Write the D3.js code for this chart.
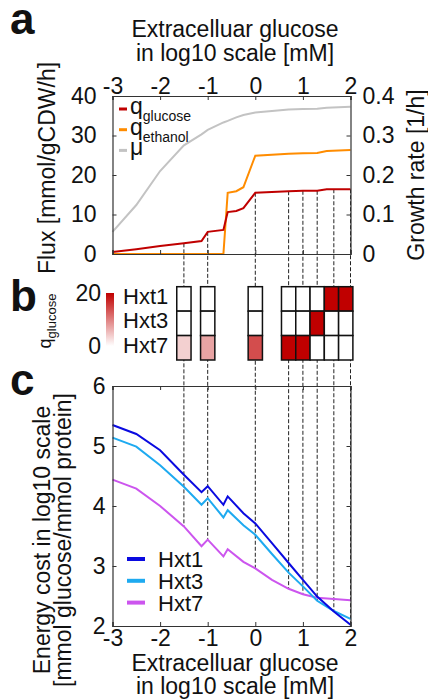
<!DOCTYPE html>
<html>
<head>
<meta charset="utf-8">
<script src="https://cdn.jsdelivr.net/npm/d3@7"></script>
<style>
  body { margin: 0; background: #fff; }
  svg text { font-family: "Liberation Sans", Arial, sans-serif; fill: #111; }
</style>
</head>
<body>
<div id="chart"></div>
<script>
// panel a: fluxes and growth rate vs log10 glucose
const fluxX = [-3, -2.5, -2, -1.5, -1.13, -1, -0.67, -0.58, -0.4, -0.25, 0, 0.7, 1, 1.3, 1.5, 2];
const qGlucose = [0.5, 1.2, 2.0, 2.7, 3.3, 5.6, 6.1, 10.6, 10.9, 11.6, 15.5, 15.9, 16.0, 16.0, 16.4, 16.4];
const qEthanol = [0, 0, 0, 0, 0, 0, 0, 15.5, 15.9, 16.9, 24.9, 25.4, 25.5, 25.6, 26.1, 26.3];
const growth = [0.056, 0.124, 0.21, 0.275, 0.303, 0.314, 0.333, 0.337, 0.346, 0.352, 0.358, 0.366, 0.367, 0.368, 0.37, 0.373];

// panel b: chosen transporter heatmap
const transporters = ["Hxt1", "Hxt3", "Hxt7"];
const heatX = [-1.5, -1, 0, 0.7, 1, 1.3, 1.6, 1.9];
const heatHxt1 = [0, 0, 0, 0, 0, 0, 20, 20];
const heatHxt3 = [0, 0, 0, 0, 0, 20, 0, 0];
const heatHxt7 = [3.7, 7.2, 14, 20, 20, 0, 0, 0];

// panel c: energy cost
const costX = [-3, -2.5, -2, -1.5, -1.13, -1, -0.67, -0.58, -0.25, 0, 0.35, 0.7, 1, 1.3, 1.65, 2];
const costHxt1 = [5.35, 5.2, 4.93, 4.52, 4.23, 4.33, 4.02, 4.16, 3.88, 3.71, 3.38, 3.05, 2.77, 2.49, 2.24, 2.02];
const costHxt3 = [5.14, 4.99, 4.68, 4.32, 4.02, 4.13, 3.81, 3.93, 3.68, 3.52, 3.2, 2.89, 2.66, 2.42, 2.25, 2.12];
const costHxt7 = [4.44, 4.29, 4.0, 3.66, 3.33, 3.44, 3.16, 3.28, 3.07, 2.96, 2.77, 2.62, 2.53, 2.47, 2.45, 2.43];

// glucose levels marked with dashed lines
const levels = [-1.5, -1, 0, 0.7, 1, 1.3, 1.65, 2];

const xTicks = [-3, -2, -1, 0, 1, 2];
const fluxTicks = [0, 10, 20, 30, 40];
const growthTicks = [0, 0.1, 0.2, 0.3, 0.4];
const costTicks = [2, 3, 4, 5, 6];

const w = 428, h = 700;
const boxColor = "#333";
const fs = "23px";

const svg = d3.select("#chart").append("svg")
    .attr("width", w)
    .attr("height", h);

const x = d3.scaleLinear().domain([-3, 2]).range([112.5, 350.5]);
const yFlux = d3.scaleLinear().domain([0, 40]).range([254, 96]);
const yGrowth = d3.scaleLinear().domain([0, 0.4]).range([254, 96]);
const yCost = d3.scaleLinear().domain([2, 6]).range([626, 386]);

const interp = (xs, ys, v) => {
    const i = d3.bisectLeft(xs, v);
    if (i <= 0) return ys[0];
    if (i >= xs.length) return ys[ys.length - 1];
    const t = (v - xs[i - 1]) / (xs[i] - xs[i - 1]);
    return ys[i - 1] + t * (ys[i] - ys[i - 1]);
};

const styleAxis = (g) => {
    g.select(".domain").attr("stroke", boxColor).attr("stroke-width", 1.2);
    g.selectAll(".tick line").attr("stroke", boxColor);
    g.selectAll(".tick text").style("font-size", fs).attr("fill", "#111");
};

// dashed guide lines (drawn first, heatmap cells sit on top)
svg.append("g")
    .selectAll("line")
    .data(levels)
    .enter()
    .append("line")
    .attr("x1", d => x(d))
    .attr("x2", d => x(d))
    .attr("y1", d => yFlux(interp(fluxX, qGlucose, d)))
    .attr("y2", d => yCost(Math.min(interp(costX, costHxt1, d), interp(costX, costHxt3, d), interp(costX, costHxt7, d))))
    .attr("stroke", "#222")
    .attr("stroke-width", 1)
    .attr("stroke-dasharray", "4,2");

// ---------- panel a ----------
const line = (xs, ys, yScale) => d3.line()
    .x((d, i) => x(xs[i]))
    .y(d => yScale(d))(ys);

svg.append("path").attr("d", line(fluxX, growth, yGrowth))
    .attr("fill", "none").attr("stroke", "#c3c3c3").attr("stroke-width", 2);
svg.append("path").attr("d", line(fluxX, qEthanol, yFlux))
    .attr("fill", "none").attr("stroke", "#ff8c00").attr("stroke-width", 2);
svg.append("path").attr("d", line(fluxX, qGlucose, yFlux))
    .attr("fill", "none").attr("stroke", "#c00000").attr("stroke-width", 2);

svg.append("g")
    .attr("transform", "translate(0,96)")
    .call(d3.axisTop(x).tickValues(xTicks).tickSize(-4).tickPadding(2).tickFormat(d => String(d)))
    .call(styleAxis);
svg.append("g")
    .attr("transform", "translate(0,254)")
    .call(d3.axisBottom(x).tickValues(xTicks).tickSize(-4).tickFormat(""))
    .call(styleAxis);
svg.append("g")
    .attr("transform", "translate(112.5,0)")
    .call(d3.axisLeft(yFlux).tickValues(fluxTicks).tickSize(-4).tickPadding(16))
    .call(styleAxis);
svg.append("g")
    .attr("transform", "translate(350.5,0)")
    .call(d3.axisRight(yGrowth).tickValues(growthTicks).tickSize(-4).tickPadding(12).tickFormat(d => d === 0 ? "0" : d3.format(".1f")(d)))
    .call(styleAxis);

// legend a
const legA = [
    { color: "#c00000", main: "q", sub: "glucose" },
    { color: "#ff8c00", main: "q", sub: "ethanol" },
    { color: "#c3c3c3", main: "\u03bc", sub: "" }
];
const legendA = svg.append("g").attr("transform", "translate(119,109)");
legendA.selectAll("line")
    .data(legA)
    .enter()
    .append("line")
    .attr("x1", 0).attr("x2", 8)
    .attr("y1", (d, i) => i * 20.7).attr("y2", (d, i) => i * 20.7)
    .attr("stroke", d => d.color)
    .attr("stroke-width", 3);
const legTexts = legendA.selectAll("text")
    .data(legA)
    .enter()
    .append("text")
    .attr("x", 11)
    .attr("y", (d, i) => i * 20.7 + 5)
    .style("font-size", "23px");
legTexts.append("tspan").text(d => d.main);
legTexts.append("tspan")
    .attr("dy", 7)
    .style("font-size", "14px")
    .text(d => d.sub);

// titles a
const topTitle = svg.append("text")
    .attr("text-anchor", "middle")
    .style("font-size", fs);
topTitle.append("tspan").attr("x", 235).attr("y", 37).text("Extracelluar glucose");
topTitle.append("tspan").attr("x", 235).attr("y", 61).text("in log10 scale [mM]");

svg.append("text")
    .attr("transform", "translate(55,168) rotate(-90)")
    .attr("text-anchor", "middle")
    .style("font-size", fs)
    .text("Flux [mmol/gCDW/h]");

svg.append("text")
    .attr("transform", "translate(424,175) rotate(-90)")
    .attr("text-anchor", "middle")
    .style("font-size", fs)
    .text("Growth rate [1/h]");

// ---------- panel b ----------
const heatRows = [heatHxt1, heatHxt3, heatHxt7];
const rowY = d3.scaleBand().domain(transporters).range([286.7, 360]);
const heatColor = d3.scaleLinear().domain([0, 20]).range(["#ffffff", "#c00000"]);
const cellW = x(0.3) - x(0);

const cells = [];
heatRows.forEach((row, r) => {
    row.forEach((v, c) => cells.push({ t: transporters[r], x: heatX[c], v: v }));
});

svg.append("g")
    .selectAll("rect")
    .data(cells)
    .enter()
    .append("rect")
    .attr("x", d => x(d.x) - cellW / 2)
    .attr("y", d => rowY(d.t))
    .attr("width", cellW)
    .attr("height", rowY.bandwidth())
    .attr("fill", d => heatColor(d.v))
    .attr("stroke", "#111")
    .attr("stroke-width", 1.5);

svg.append("g")
    .selectAll("text")
    .data(transporters)
    .enter()
    .append("text")
    .attr("x", 123)
    .attr("y", d => rowY(d) + rowY.bandwidth() / 2 + 5)
    .style("font-size", "22px")
    .text(d => d);

// colorbar
const defs = svg.append("defs");
const grad = defs.append("linearGradient")
    .attr("id", "cbar")
    .attr("x1", 0).attr("y1", 1).attr("x2", 0).attr("y2", 0);
grad.append("stop").attr("offset", "0%").attr("stop-color", heatColor(0));
grad.append("stop").attr("offset", "100%").attr("stop-color", heatColor(20));

const yBar = d3.scaleLinear().domain([0, 20]).range([346, 293]);
svg.append("rect")
    .attr("x", 106)
    .attr("y", yBar(20))
    .attr("width", 8)
    .attr("height", yBar(0) - yBar(20))
    .attr("fill", "url(#cbar)");
svg.append("g")
    .selectAll("text")
    .data([0, 20])
    .enter()
    .append("text")
    .attr("x", 101)
    .attr("y", d => yBar(d) + 8)
    .attr("text-anchor", "end")
    .style("font-size", fs)
    .text(d => d);

const qLabel = svg.append("text")
    .attr("transform", "translate(51,321) rotate(-90)")
    .attr("text-anchor", "middle")
    .style("font-size", "18px");
qLabel.append("tspan").text("q");
qLabel.append("tspan").attr("dy", 5).style("font-size", "13px").text("glucose");

// ---------- panel c ----------
svg.append("path").attr("d", line(costX, costHxt7, yCost))
    .attr("fill", "none").attr("stroke", "#cc55ee").attr("stroke-width", 2);
svg.append("path").attr("d", line(costX, costHxt3, yCost))
    .attr("fill", "none").attr("stroke", "#1eaaf0").attr("stroke-width", 2);
svg.append("path").attr("d", line(costX, costHxt1, yCost))
    .attr("fill", "none").attr("stroke", "#0a0ae0").attr("stroke-width", 2);

svg.append("g")
    .attr("transform", "translate(0,626)")
    .call(d3.axisBottom(x).tickValues(xTicks).tickSize(-4).tickPadding(4).tickFormat(d => String(d)))
    .call(styleAxis);
svg.append("g")
    .attr("transform", "translate(0,386)")
    .call(d3.axisTop(x).tickValues(xTicks).tickSize(-4).tickFormat(""))
    .call(styleAxis);
svg.append("g")
    .attr("transform", "translate(112.5,0)")
    .call(d3.axisLeft(yCost).tickValues(costTicks).tickSize(-4).tickPadding(7).tickFormat(d => String(d)))
    .call(styleAxis);
svg.append("g")
    .attr("transform", "translate(350.5,0)")
    .call(d3.axisRight(yCost).tickValues(costTicks).tickSize(-4).tickFormat(""))
    .call(styleAxis);

const legC = [
    { name: "Hxt1", color: "#0a0ae0" },
    { name: "Hxt3", color: "#1eaaf0" },
    { name: "Hxt7", color: "#cc55ee" }
];
const legendC = svg.append("g").attr("transform", "translate(127,559)");
legendC.selectAll("line")
    .data(legC)
    .enter()
    .append("line")
    .attr("x1", 0).attr("x2", 18)
    .attr("y1", (d, i) => i * 21.8).attr("y2", (d, i) => i * 21.8)
    .attr("stroke", d => d.color)
    .attr("stroke-width", 4);
legendC.selectAll("text")
    .data(legC)
    .enter()
    .append("text")
    .attr("x", 31)
    .attr("y", (d, i) => i * 21.8 + 8)
    .style("font-size", "22px")
    .text(d => d.name);

const botTitle = svg.append("text")
    .attr("text-anchor", "middle")
    .style("font-size", fs);
botTitle.append("tspan").attr("x", 235).attr("y", 671).text("Extracelluar glucose");
botTitle.append("tspan").attr("x", 235).attr("y", 694).text("in log10 scale [mM]");

const costTitle = svg.append("text")
    .attr("transform", "translate(50,540) rotate(-90)")
    .attr("text-anchor", "middle")
    .style("font-size", fs);
costTitle.append("tspan").attr("x", 0).attr("y", 0).text("Energy cost in log10 scale");
costTitle.append("tspan").attr("x", 0).attr("y", 21).text("[mmol glucose/mmol protein]");

// panel letters
svg.append("g")
    .selectAll("text")
    .data([["a", 34], ["b", 311], ["c", 395]])
    .enter()
    .append("text")
    .attr("x", 10)
    .attr("y", d => d[1])
    .style("font-size", "44px")
    .style("font-weight", "bold")
    .attr("fill", "#000")
    .text(d => d[0]);
</script>
</body>
</html>
